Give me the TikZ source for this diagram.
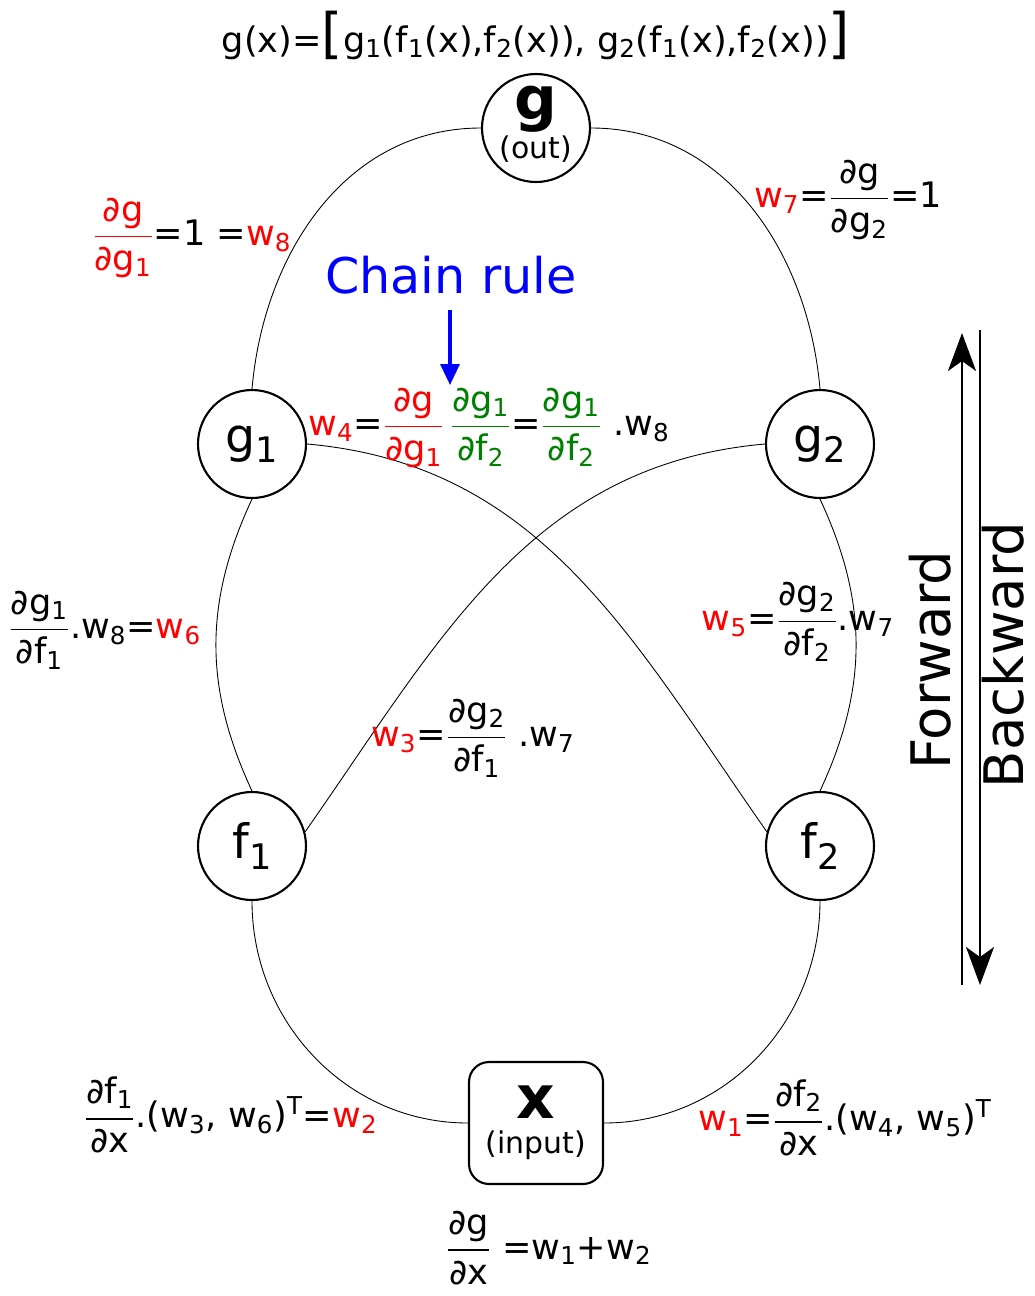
\documentclass[tikz,border=0pt]{standalone}
\usepackage{amsmath}
\usepackage{fontspec}
\setmainfont{DejaVu Sans}
\usetikzlibrary{arrows.meta}

\definecolor{wred}{RGB}{255,0,0}
\definecolor{rulegreen}{RGB}{0,128,0}
\definecolor{ruleblue}{RGB}{0,0,255}

\newcommand{\dpart}[2]{\ensuremath{\genfrac{}{}{0.8pt}{0}{\text{#1}}{\text{#2}}}}
\newcommand{\lowidx}[1]{\textsubscript{#1}}
\newcommand{\upidx}[1]{\textsuperscript{#1}}
\newcommand{\wlab}[1]{\textcolor{wred}{w\lowidx{#1}}}
\newcommand{\nodeidx}[1]{\raisebox{-0.22em}{\fontsize{20}{20}\selectfont #1}}

\begin{document}
\begin{tikzpicture}[
    x=0.02cm, y=-0.02cm,
    opnode/.style={
        circle, draw, line width=1.2pt, minimum size=2.16cm, inner sep=0pt,
        font=\fontsize{27}{27}\selectfont
    },
    inputbox/.style={
        draw, line width=1.2pt, rounded corners=0.4cm, align=center,
        minimum width=2.68cm, minimum height=2.44cm, inner sep=0pt
    },
    link/.style={draw, line width=0.5pt},
    weightlabel/.style={font=\fontsize{20}{20}\selectfont, inner sep=0pt},
    dirlabel/.style={font=\fontsize{31}{31}\selectfont, rotate=90, inner sep=0pt},
    dirarrow/.style={line width=1.4pt, -{Stealth[length=0.76cm, width=0.56cm, inset=0.2cm]}},
    rulearrow/.style={ruleblue, line width=1.9pt, -{Triangle[length=0.42cm, width=0.38cm]}}
]
\useasboundingbox (0,0) rectangle (1035,1296);

% Function definition
\node[font=\fontsize{20}{20}\selectfont, inner sep=0pt] (gdef) at (536,35)
    {g(x)={\fontsize{31}{31}\selectfont[}g\lowidx{1}(f\lowidx{1}(x),f\lowidx{2}(x)), g\lowidx{2}(f\lowidx{1}(x),f\lowidx{2}(x)){\fontsize{31}{31}\selectfont]}};

% Graph nodes
\node[opnode, label={[align=center, inner sep=0pt, yshift=2pt]center:{{\fontsize{34}{34}\selectfont\bfseries g}\\[1pt]{\fontsize{17}{17}\selectfont(out)}}}] (out) at (536,128) {};
\node[opnode] (g1) at (252,444) {g\nodeidx{1}};
\node[opnode] (g2) at (820,444) {g\nodeidx{2}};
\node[opnode] (f1) at (252,846) {f\nodeidx{1}};
\node[opnode] (f2) at (820,846) {f\nodeidx{2}};
\node[inputbox] (input) at (536,1123) {{\fontsize{34}{34}\selectfont\bfseries x}\\[6pt]{\fontsize{17}{17}\selectfont(input)}};

% Connections
\draw[link] (g1.north) to[out=85, in=180] (out.west);
\draw[link] (out.east) to[out=0, in=95] (g2.north);
\draw[link] (g1.south) to[out=-115, in=115] (f1.north);
\draw[link] (g2.south) to[out=-65, in=65] (f2.north);
\draw[link] (g1.east) to[out=-5, in=125] (f2.165);
\draw[link] (g2.west) to[out=185, in=55] (f1.15);
\draw[link] (f1.south) to[out=-90, in=180] (input.west);
\draw[link] (f2.south) to[out=-90, in=0] (input.east);

% Weights
\node[weightlabel] (w8) at (192,238) {\textcolor{wred}{\dpart{∂g}{∂g\lowidx{1}}}=1 =\wlab{8}};
\node[weightlabel] (w7) at (848,200) {\wlab{7}=\dpart{∂g}{∂g\lowidx{2}}=1};
\node[weightlabel] (w4) at (489,428) {\wlab{4}=\textcolor{wred}{\dpart{∂g}{∂g\lowidx{1}}}\,\textcolor{rulegreen}{\dpart{∂g\lowidx{1}}{∂f\lowidx{2}}}=\textcolor{rulegreen}{\dpart{∂g\lowidx{1}}{∂f\lowidx{2}}} .w\lowidx{8}};
\node[weightlabel] (w6) at (105,630) {\dpart{∂g\lowidx{1}}{∂f\lowidx{1}}.w\lowidx{8}=\wlab{6}};
\node[weightlabel] (w5) at (798,622) {\wlab{5}=\dpart{∂g\lowidx{2}}{∂f\lowidx{2}}.w\lowidx{7}};
\node[weightlabel] (w3) at (473,738) {\wlab{3}=\dpart{∂g\lowidx{2}}{∂f\lowidx{1}} .w\lowidx{7}};
\node[weightlabel] (w2) at (231,1115) {\dpart{∂f\lowidx{1}}{∂x}.(w\lowidx{3}, w\lowidx{6})\upidx{T}=\wlab{2}};
\node[weightlabel] (w1) at (845,1118) {\wlab{1}=\dpart{∂f\lowidx{2}}{∂x}.(w\lowidx{4}, w\lowidx{5})\upidx{T}};
\node[weightlabel] (total) at (549,1248) {\dpart{∂g}{∂x} =w\lowidx{1}+w\lowidx{2}};

% Chain rule
\node[font=\fontsize{28}{28}\selectfont, text=ruleblue, inner sep=0pt] (chain) at (451,275) {Chain rule};
\coordinate (ruletip) at (450,385);
\draw[rulearrow, shorten <=9pt] (chain.south -| ruletip) -- (ruletip);

% Forward / Backward
\coordinate (fwdlow) at (962,985);
\coordinate (fwdhigh) at (962,333);
\coordinate (bwdhigh) at (980,330);
\coordinate (bwdlow) at (980,985);
\draw[dirarrow] (fwdlow) -- (fwdhigh);
\draw[dirarrow] (bwdhigh) -- (bwdlow);
\node[dirlabel] (fwd) at (930,660) {Forward};
\node[dirlabel] (bwd) at (1003,655) {Backward};

\end{tikzpicture}
\end{document}
